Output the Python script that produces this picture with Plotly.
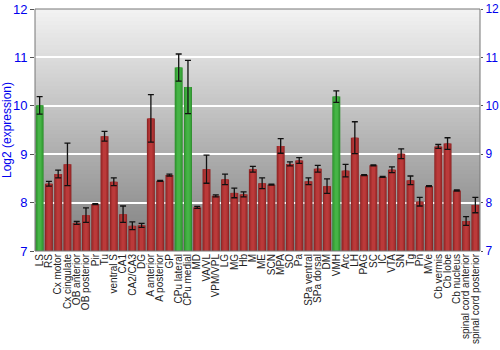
import plotly.graph_objects as go

regions = ["LS", "RS", "Cx motor", "Cx cingulate", "OB anterior", "OB posterior", "Pir", "Tu",
           "ventral S", "CA1", "CA2/CA3", "DG", "A anterior", "A posterior", "GP", "CPu lateral",
           "CPu medial", "MD", "VA/VL", "VPM/VPL", "LG", "MG", "Hb", "M", "ME", "SCN", "MPA", "SO",
           "Pa", "SPa ventral", "SPa dorsal", "DM", "VMH", "Arc", "LH", "PAG", "SC", "IC", "VTA",
           "SN", "Tg", "Pn", "MVe", "Cb vermis", "Cb lobe", "Cb nucleus", "spinal cord anterior",
           "spinal cord posterior"]
expression = [10.01, 8.39, 8.59, 8.79, 7.58, 7.74, 7.97, 9.37,
              8.43, 7.76, 7.52, 7.53, 9.74, 8.45, 8.57, 10.79,
              10.39, 7.90, 8.69, 8.14, 8.48, 8.20, 8.17, 8.69, 8.40, 8.37, 9.17, 8.80,
              8.87, 8.44, 8.70, 8.34, 10.19, 8.66, 9.34, 8.57, 8.77, 8.53, 8.68,
              9.01, 8.46, 8.02, 8.34, 9.16, 9.22, 8.25, 7.62, 7.95]
errors = [0.18, 0.05, 0.08, 0.44, 0.03, 0.15, 0.01, 0.10,
          0.08, 0.17, 0.08, 0.04, 0.49, 0.01, 0.02, 0.28,
          0.55, 0.02, 0.29, 0.02, 0.11, 0.10, 0.05, 0.06, 0.11, 0.01, 0.15, 0.04,
          0.06, 0.07, 0.07, 0.15, 0.12, 0.13, 0.33, 0.01, 0.01, 0.01, 0.06,
          0.10, 0.09, 0.09, 0.01, 0.04, 0.12, 0.01, 0.09, 0.16]
highlighted = ["LS", "CPu lateral", "CPu medial", "VMH"]

dark = ["#2f8f2f" if r in highlighted else "#8e2424" for r in regions]
mid = ["#3aa53a" if r in highlighted else "#a83030" for r in regions]
light = ["#46b446" if r in highlighted else "#bb3a3a" for r in regions]

fig = go.Figure()
for w, cols in [(0.86, dark), (0.66, mid), (0.36, light)]:
    fig.add_trace(go.Bar(x=regions, y=[v - 7 for v in expression], base=7, width=w,
                         marker=dict(color=cols, line=dict(width=0)), showlegend=False,
                         hoverinfo="skip"))
fig.add_trace(go.Scatter(x=regions, y=expression, mode="markers",
                         marker=dict(size=1, color="rgba(0,0,0,0)"),
                         error_y=dict(type="data", array=errors, color="#111111",
                                      thickness=1.3, width=3),
                         showlegend=False))
fig.add_trace(go.Scatter(x=regions[:1], y=[7], yaxis="y2", mode="markers",
                         marker=dict(size=1, color="rgba(0,0,0,0)"), showlegend=False,
                         hoverinfo="skip"))

# vertical gradient background (overlapping strips to avoid seams)
n = 60
shapes = []
for i in range(n):
    t = i / (n - 1)
    c = int(round(0xf2 - (0xf2 - 0x80) * (1 - t)))
    shapes.append(dict(type="rect", xref="x domain", yref="y domain",
                       x0=0, x1=1, y0=i / n, y1=min(1.0, (i + 1) / n + 0.012),
                       fillcolor=f"rgb({c},{c},{c})", line=dict(width=0), layer="below"))
shapes.append(dict(type="rect", xref="x domain", yref="y domain", x0=0, x1=1, y0=0, y1=1,
                   line=dict(color="#777777", width=1), fillcolor="rgba(0,0,0,0)", layer="above"))

fig.update_layout(
    width=500, height=350,
    margin=dict(l=35, r=20, t=9, b=99, autoexpand=False),
    barmode="overlay",
    paper_bgcolor="white", plot_bgcolor="rgba(0,0,0,0)",
    font=dict(family="Liberation Sans", size=11, color="black"),
    shapes=shapes,
    xaxis=dict(tickangle=-90, tickfont=dict(family="Liberation Sans", size=10, color="#222222"),
               showgrid=False, automargin=False, tickmode="linear", dtick=1, tick0=0,
               range=[-0.5, len(regions) - 0.5], ticks="", showline=False),
    yaxis=dict(range=[7, 12], dtick=1, automargin=False,
               tickfont=dict(family="Liberation Sans", size=13, color="#0000ee"),
               title=dict(text="Log2 (expression)",
                          font=dict(family="Liberation Sans", size=12, color="#0000ee"), standoff=4),
               gridcolor="white", gridwidth=1.5, ticks="outside", ticklen=4, tickcolor="#555555",
               zeroline=False, showline=False, layer="below traces"),
    yaxis2=dict(range=[7, 12], dtick=1, overlaying="y", side="right", automargin=False,
                tickfont=dict(family="Liberation Sans", size=12, color="#0000ee"), showgrid=False,
                ticks="outside", ticklen=2, tickcolor="#555555", zeroline=False),
)
fig.write_html("out.html")
